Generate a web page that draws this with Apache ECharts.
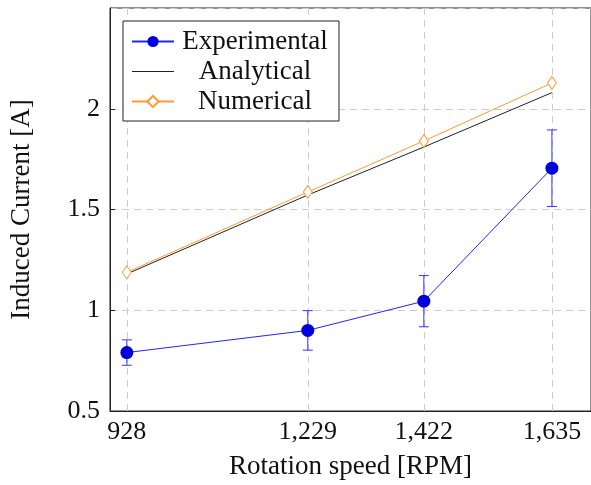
<!DOCTYPE html>
<html>
<head>
<meta charset="utf-8">
<script src="https://cdn.jsdelivr.net/npm/echarts@6/dist/echarts.min.js"></script>
<style>
  html, body { margin: 0; padding: 0; background: #fff; }
  #main { width: 591px; height: 485px; }
</style>
</head>
<body>
<div id="main"></div>
<script>
// rotation speeds [RPM]
const speeds = [928, 1229, 1422, 1635]
// induced current [A]
const experimental = [0.79, 0.90, 1.045, 1.705]
const expError = [0.063, 0.098, 0.127, 0.19]
const analytical = [1.18, 1.572, 1.81, 2.08]
const numerical = [1.188, 1.587, 1.84, 2.128]

const font = 'Liberation Serif'
const gridDash = { color: '#cccccc', width: 1, type: [7, 5] }

function pairs(values) {
  return speeds.map(function(s, i) {
    return [s, values[i]]
  })
}

const errData = speeds.map(function(s, i) {
  return [s, experimental[i] - expError[i], experimental[i] + expError[i]]
})

const myChart = echarts.init(document.getElementById('main'))

const option = {
  animation: false,
  backgroundColor: '#fff',
  textStyle: { fontFamily: font },
  grid: {
    left: 108,
    right: -3,
    top: 8,
    bottom: 73,
    show: true,
    borderColor: '#222',
    borderWidth: 1
  },
  legend: {
    data: [
      { name: 'Experimental' },
      { name: 'Analytical', icon: 'path://M0,0L42,0L42,1L0,1Z' }, // plain line, no marker
      { name: 'Numerical' }
    ],
    orient: 'vertical',
    left: 123,
    top: 21,
    padding: [7, 8, 6, 8],
    itemGap: 3,
    itemWidth: 42,
    itemHeight: 14,
    backgroundColor: '#fff',
    borderColor: '#222',
    borderWidth: 1,
    formatter: function(name) {
      return '{c|' + name + '}'
    },
    textStyle: {
      rich: {
        c: {
          width: 152,
          align: 'center',
          fontSize: 27,
          lineHeight: 28,
          fontFamily: font,
          color: '#111'
        }
      }
    }
  },
  xAxis: {
    type: 'value',
    min: 900,
    max: 1700,
    name: 'Rotation speed [RPM]',
    nameLocation: 'middle',
    nameGap: 42,
    nameTextStyle: { fontSize: 27, color: '#111', fontFamily: font },
    axisLine: { lineStyle: { color: '#222', width: 1 } },
    axisTick: { inside: true, length: 5, customValues: speeds, lineStyle: { color: '#222' } },
    axisLabel: {
      customValues: speeds,
      fontSize: 26,
      color: '#111',
      margin: 8,
      formatter: function(v) {
        return String(v).replace(/\B(?=(\d{3})+(?!\d))/g, ',')
      }
    },
    splitLine: { show: false }
  },
  yAxis: {
    type: 'value',
    min: 0.5,
    max: 2.5,
    interval: 0.5,
    name: 'Induced Current [A]',
    nameLocation: 'middle',
    nameGap: 75,
    nameTextStyle: { fontSize: 27, color: '#111', fontFamily: font },
    axisLine: { show: true, lineStyle: { color: '#222', width: 1 } },
    axisTick: { show: true, inside: true, length: 5, lineStyle: { color: '#222' } },
    axisLabel: { fontSize: 26, color: '#111', margin: 10, showMaxLabel: false },
    splitLine: { show: true, lineStyle: gridDash }
  },
  series: [
    {
      name: 'Analytical',
      type: 'line',
      data: pairs(analytical),
      symbol: 'none',
      z: 3,
      lineStyle: { color: '#222', width: 1 },
      itemStyle: { color: '#222' },
      markLine: {
        silent: true,
        symbol: 'none',
        label: { show: false },
        lineStyle: gridDash,
        z: 1,
        data: speeds.map(function(s) { return { xAxis: s } })
      }
    },
    {
      name: 'Numerical',
      type: 'line',
      data: pairs(numerical),
      symbol: 'diamond',
      symbolSize: [9, 13],
      showSymbol: true,
      z: 4,
      lineStyle: { color: '#ff9933', width: 1 },
      itemStyle: { color: '#fff', borderColor: '#ff9933', borderWidth: 1 }
    },
    {
      name: 'errorbars',
      type: 'custom',
      data: errData,
      z: 5,
      renderItem: function(params, api) {
        const x = api.value(0)
        const lo = api.coord([x, api.value(1)])
        const hi = api.coord([x, api.value(2)])
        const w = 5
        const style = { stroke: '#3333ff', lineWidth: 1 }
        return {
          type: 'group',
          children: [
            { type: 'line', shape: { x1: lo[0], y1: lo[1], x2: hi[0], y2: hi[1] }, style: style },
            { type: 'line', shape: { x1: lo[0] - w, y1: lo[1], x2: lo[0] + w, y2: lo[1] }, style: style },
            { type: 'line', shape: { x1: hi[0] - w, y1: hi[1], x2: hi[0] + w, y2: hi[1] }, style: style }
          ]
        }
      }
    },
    {
      name: 'Experimental',
      type: 'line',
      data: pairs(experimental),
      symbol: 'circle',
      symbolSize: 13,
      showSymbol: true,
      z: 6,
      lineStyle: { color: '#2222ff', width: 1 },
      itemStyle: { color: '#0000dd' }
    }
  ]
}

myChart.setOption(option)
</script>
</body>
</html>
